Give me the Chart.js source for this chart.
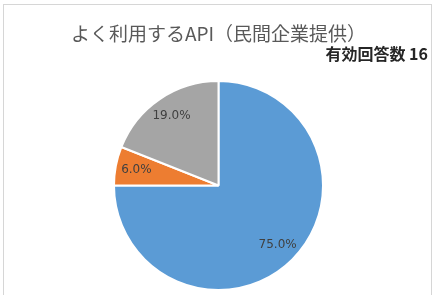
<!DOCTYPE html>
<html>
<head>
<meta charset="utf-8">
<script src="https://cdn.jsdelivr.net/npm/chart.js@4/dist/chart.umd.min.js"></script>
<style>
  html, body { margin: 0; padding: 0; background: #fff; }
  #wrap { position: relative; width: 437px; height: 295px; overflow: hidden; }
  #frame { position: absolute; left: 3px; top: 4px; width: 429px; height: 320px; border: 1px solid #d6d6d6; box-sizing: border-box; }
  canvas { position: absolute; left: 0; top: 0; }
</style>
</head>
<body>
<div id="wrap">
  <div id="frame"></div>
  <canvas id="myChart" width="437" height="295"></canvas>
</div>
<script>
// よく利用するAPI（民間企業提供）
var categories = ['A', 'B', 'C'];
var shares = [75.0, 6.0, 19.0];
var sliceColors = ['#5B9BD5', '#ED7D31', '#A5A5A5'];
var titleText = 'よく利用するAPI（民間企業提供）';
var subText = '有効回答数 16';

// percentage labels inside the slices
var sliceLabels = {
    id: 'sliceLabels',
    afterDatasetsDraw: function(chart) {
        var ctx = chart.ctx;
        var meta = chart.getDatasetMeta(0);
        ctx.save();
        ctx.font = '12px "DejaVu Sans", sans-serif';
        ctx.fillStyle = '#404040';
        ctx.textAlign = 'center';
        ctx.textBaseline = 'middle';
        meta.data.forEach(function(arc, i) {
            var mid = (arc.startAngle + arc.endAngle) / 2;
            var r = arc.outerRadius * 0.8;
            ctx.fillText(shares[i].toFixed(1) + '%', arc.x + Math.cos(mid) * r, arc.y + Math.sin(mid) * r);
        });
        ctx.restore();
    }
};

var ctx = document.getElementById('myChart');

var myPieChart = new Chart(ctx, {
    type: 'pie',
    data: {
        labels: categories,
        datasets: [{
            data: shares,
            backgroundColor: sliceColors,
            borderColor: '#ffffff',
            borderWidth: 2
        }]
    },
    options: {
        responsive: false,
        animation: false,
        layout: { padding: { top: 0, bottom: 4, left: 9, right: 9 } },
        plugins: {
            legend: { display: false },
            tooltip: { enabled: false },
            title: {
                display: true,
                text: titleText,
                color: '#595959',
                font: { family: '"Noto Sans CJK JP"', size: 19, weight: 'normal' },
                padding: { top: 22, bottom: 0 }
            },
            subtitle: {
                display: true,
                text: subText,
                align: 'end',
                color: '#262626',
                font: { family: '"Noto Sans CJK JP"', size: 16, weight: 'bold' },
                padding: { top: 0, bottom: 16 }
            }
        }
    },
    plugins: [sliceLabels]
});
</script>
</body>
</html>
